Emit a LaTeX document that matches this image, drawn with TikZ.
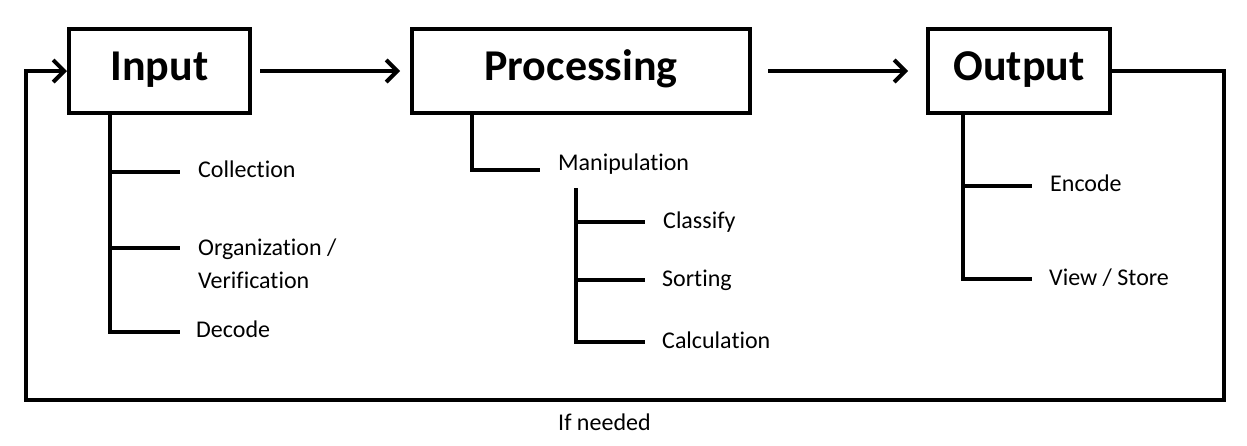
\documentclass[tikz,border=0pt]{standalone}
\usepackage{fontspec}
\setmainfont{Carlito}[RawFeature={-liga}]
\usetikzlibrary{arrows.meta}
\tikzset{
  box/.style={draw=black, line width=4pt, inner sep=0pt, minimum height=84pt,
    text height=30pt, text depth=12pt, font=\fontsize{44}{50}\selectfont\bfseries},
  lbl/.style={inner sep=0pt, anchor=base west, font=\fontsize{24}{28}\selectfont},
  line/.style={line width=4pt, line join=miter},
  arr/.style={line width=4pt, -{Straight Barb[length=11pt,width=22pt,line width=4pt]}},
}
\begin{document}
\begin{tikzpicture}[x=1pt,y=-1pt]
\useasboundingbox (0,0) rectangle (1247,445);
% boxes
\node[box, minimum width=181pt] (inp) at (159.5,71) {Input};
\node[box, minimum width=338pt] (proc) at (581,71) {Processing};
\node[box, minimum width=182pt] (out) at (1019,71) {Output};
% main arrows
\draw[arr, shorten <=8pt, shorten >=10pt] (inp.east) -- (proc.west);
\draw[arr, shorten <=16pt, shorten >=18pt] (proc.east) -- (out.west);
% feedback loop
\coordinate (fr) at (1224,400);
\coordinate (fl) at (26,400);
\draw[arr] (out.east) -| (fr) -- (fl) |- (inp.west);
\node[lbl] (need) at (558,430) {If needed};
% input branches
\coordinate (it) at (110,115);
\coordinate (ib1) at (110,172);
\coordinate (ib2) at (110,248);
\coordinate (ib3) at (110,332);
\draw[line] (it) -- (ib3) -- (180,332);
\draw[line] (ib1) -- (180,172);
\draw[line] (ib2) -- (180,248);
\node[lbl] (coll) at (198,177) {Collection};
\node[lbl] (org) at (198,255) {Organization /};
\node[lbl] (ver) at (198,288) {Verification};
\node[lbl] (dec) at (196,337) {Decode};
% processing branches
\coordinate (pt) at (472,115);
\coordinate (pm) at (472,170);
\draw[line] (pt) -- (pm) -- (540,170);
\node[lbl] (man) at (558,170) {Manipulation};
\coordinate (st) at (576,188);
\coordinate (sb) at (576,342);
\draw[line] (st) -- (sb) -- (645,342);
\draw[line] (576,222) -- (645,222);
\draw[line] (576,280) -- (645,280);
\node[lbl] (cls) at (663,228) {Classify};
\node[lbl] (srt) at (662,286) {Sorting};
\node[lbl] (calc) at (662,348) {Calculation};
% output branches
\coordinate (ot) at (963,115);
\coordinate (ob) at (963,279);
\draw[line] (ot) -- (ob) -- (1032,279);
\draw[line] (963,186) -- (1032,186);
\node[lbl] (enc) at (1050,191) {Encode};
\node[lbl] (vs) at (1049,285) {View / Store};
\end{tikzpicture}
\end{document}
